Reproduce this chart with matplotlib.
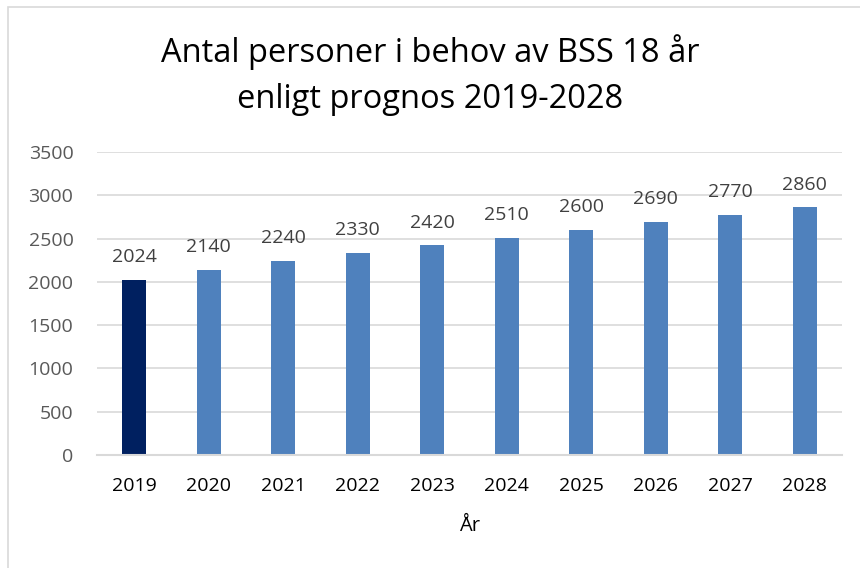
import matplotlib.pyplot as plt
from matplotlib.patches import Rectangle

# data
years = ["2019", "2020", "2021", "2022", "2023", "2024", "2025", "2026", "2027", "2028"]
persons = [2024, 2140, 2240, 2330, 2420, 2510, 2600, 2690, 2770, 2860]
y_ticks = [0, 500, 1000, 1500, 2000, 2500, 3000, 3500]

plt.rcParams['font.family'] = ['Open Sans', 'DejaVu Sans']

fig = plt.figure(figsize=(8.6, 5.68), dpi=100)
ax = fig.add_axes([97 / 860, 1 - 455 / 568, 745 / 860, 303 / 568])

colors = ["#002060"] + ["#4F81BD"] * (len(years) - 1)
x = range(len(years))
bars = ax.bar(x, persons, width=0.32, color=colors, zorder=3)

for i, v in enumerate(persons):
    ax.annotate(str(v), (i, v), xytext=(0, 10), textcoords="offset points",
                ha="center", va="bottom", fontsize=14, color="#404040")

ax.set_xlim(-0.5, len(years) - 0.5)
ax.set_ylim(0, 3500)
ax.set_yticks(y_ticks)
ax.set_xticks(list(x))
ax.set_xticklabels(years, fontsize=14, color="#000000")
ax.tick_params(axis="y", labelsize=14, labelcolor="#595959", length=0, pad=17)
ax.tick_params(axis="x", length=0, pad=16)
ax.grid(axis="y", color="#D9D9D9", linewidth=1.2, zorder=0)
for s in ["top", "right", "left"]:
    ax.spines[s].set_visible(False)
ax.spines["bottom"].set_color("#D9D9D9")
ax.spines["bottom"].set_linewidth(1.5)
ax.spines["bottom"].set_zorder(4)

ax.set_xlabel("År", fontsize=14.5, color="#000000", labelpad=15)

fig.text(0.5, 1 - 52 / 568, "Antal personer i behov av BSS 18 år",
         ha="center", va="center", fontsize=23.5, color="#000000")
fig.text(0.5, 1 - 100 / 568, "enligt prognos 2019-2028",
         ha="center", va="center", fontsize=23.5, color="#000000")

# light chart border
fig.patches.append(Rectangle((8 / 860, -0.05), 1.0, 1 - 7 / 568 + 0.05,
                             transform=fig.transFigure, fill=False,
                             edgecolor="#D9D9D9", linewidth=1.2))

fig.savefig("out.png", dpi=100)
